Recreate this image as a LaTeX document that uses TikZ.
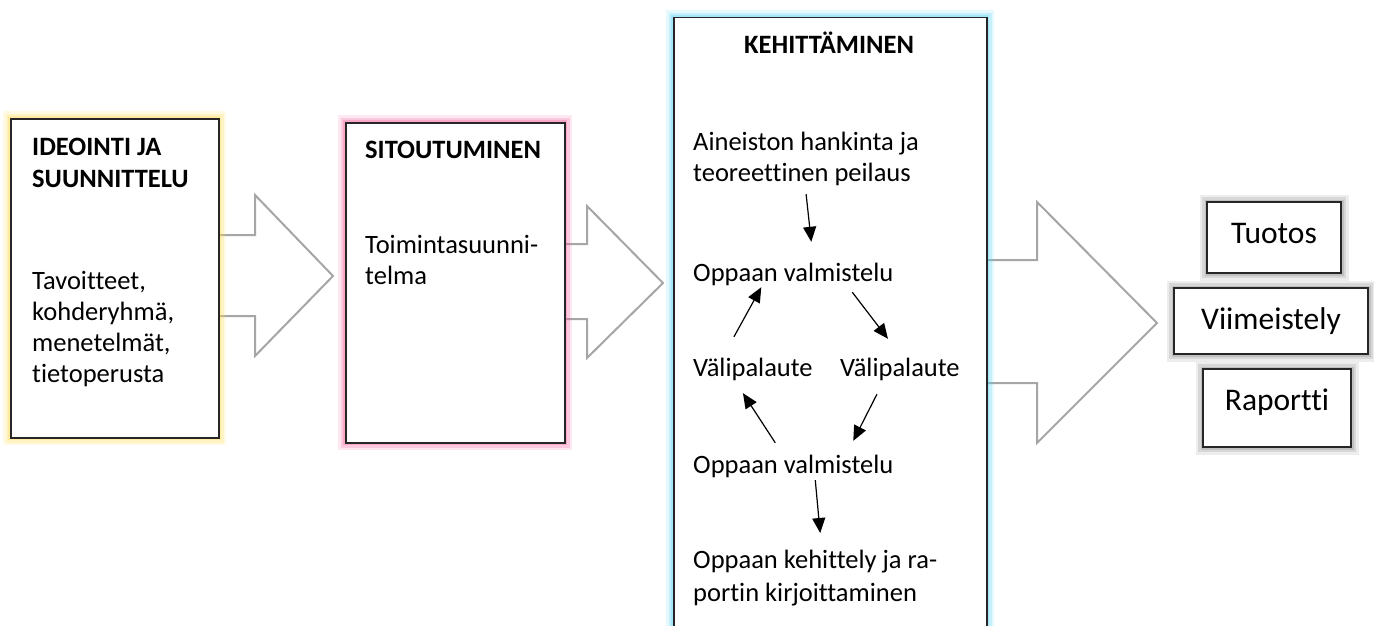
\documentclass[tikz,border=0pt]{standalone}
\usepackage{fontspec}
\setmainfont{Carlito}[Ligatures={NoCommon,NoContextual}]
\usetikzlibrary{
  arrows.meta,
  positioning
}
\definecolor{boxline}{RGB}{38,38,38}
\definecolor{arrowgray}{RGB}{166,166,166}
\definecolor{ideaglow}{RGB}{255,222,80}
\definecolor{sitouglow}{RGB}{245,95,155}
\definecolor{kehitglow}{RGB}{85,210,245}
\definecolor{shadowgray}{RGB}{140,140,140}
\tikzset{
  >={Triangle[length=15pt,width=13pt]},
  x=1pt, y=-1pt,
  glow/.style={preaction={draw=#1, line width=15pt, opacity=0.15},
               preaction={draw=#1, line width=10pt, opacity=0.22},
               preaction={draw=#1, line width=5pt, opacity=0.3}},
  phase/.style={draw=boxline, line width=1.5pt, fill=white, anchor=north west, inner sep=0pt},
  bigarrow/.style={draw=arrowgray, line width=2pt, fill=white, line join=miter},
  title/.style={font=\fontsize{26.5}{32}\selectfont\bfseries, inner sep=0pt, align=left, anchor=north west},
  body/.style={font=\fontsize{26.5}{31}\selectfont, inner sep=0pt, align=left, anchor=north west},
  oneline/.style={font=\fontsize{26.5}{31}\selectfont, inner sep=0pt, text height=19pt, text depth=6pt, anchor=base west},
  result/.style={draw=boxline, line width=1.5pt, fill=white, glow=shadowgray, inner sep=0pt,
                 font=\fontsize{31.5}{36}\selectfont}
}
\begin{document}
\begin{tikzpicture}
    \useasboundingbox[fill=white] (0,0) rectangle (1374,626);
    \draw[bigarrow] (218,235) -- (255,235) -- (255,195) -- (333,276) -- (255,356) -- (255,316) -- (218,316);
    \draw[bigarrow] (564,244) -- (587,244) -- (587,206) -- (663,283) -- (587,358) -- (587,319) -- (564,319);
    \draw[bigarrow] (986,260) -- (1037,260) -- (1037,202) -- (1157,323) -- (1037,443) -- (1037,383) -- (986,383);

    \node[phase, glow=ideaglow, minimum width=208pt, minimum height=319pt] (idea) at (10,118) {};
    \node[phase, glow=sitouglow, minimum width=219pt, minimum height=320pt] (sitou) at (345,122) {};
    \node[phase, glow=kehitglow, minimum width=313pt, minimum height=640pt] (kehit) at (673,17) {};

    \node[title] (ideatitle) at (32,138) {IDEOINTI JA\\SUUNNITTELU};
    \node[body] (ideabody) at (32,271) {Tavoitteet,\\kohderyhmä,\\menetelmät,\\tietoperusta};
    \node[title] (sitoutitle) at (365,141) {SITOUTUMINEN};
    \node[body] (sitoubody) at (365,235) {Toimintasuunni-\\telma};
    \node[title, anchor=base] (kehittitle) at (829,54) {KEHITTÄMINEN};

    \node[body] (hank) at (693,132) {Aineiston hankinta ja\\teoreettinen peilaus};
    \node[oneline] (opas1) at (693,281) {Oppaan valmistelu};
    \node[oneline] (vali1) at (693,376) {Välipalaute};
    \node[oneline] (vali2) at (840,376) {Välipalaute};
    \node[oneline] (opas2) at (693,473) {Oppaan valmistelu};
    \node[body, font=\fontsize{26.5}{33}\selectfont] (raportti) at (693,550) {Oppaan kehittely ja ra-\\portin kirjoittaminen};

    \draw[->, line width=1.2pt] ([yshift=-8pt]hank.south) -- ([xshift=18pt,yshift=20pt]opas1.north);
    \draw[->, line width=1.2pt] ([xshift=59pt,yshift=-5pt]opas1.south) -- ([xshift=-12pt,yshift=18pt]vali2.north);
    \draw[->, line width=1.2pt] ([xshift=-23pt,yshift=-12pt]vali2.south) -- ([xshift=60pt,yshift=13pt]opas2.north);
    \draw[->, line width=1.2pt] ([xshift=-18pt,yshift=11pt]opas2.north) -- ([xshift=-10pt,yshift=-11pt]vali1.south);
    \draw[->, line width=1.2pt] ([xshift=-19pt,yshift=20pt]vali1.north) -- ([xshift=-32pt]opas1.south);
    \draw[->, line width=1.2pt] ([xshift=22pt,yshift=-1pt]opas2.south) -- ([xshift=5pt,yshift=17pt]raportti.north);

    \node[result, minimum width=134pt, minimum height=71pt, text height=20pt, text depth=9pt] (tuotos) at (1274,237.5) {Tuotos};
    \node[result, minimum width=194pt, minimum height=66pt] (viim) at (1271,321) {Viimeistely};
    \node[result, minimum width=148pt, minimum height=78pt, text height=20pt, text depth=16pt] (rap) at (1277,408) {Raportti};
\end{tikzpicture}
\end{document}
